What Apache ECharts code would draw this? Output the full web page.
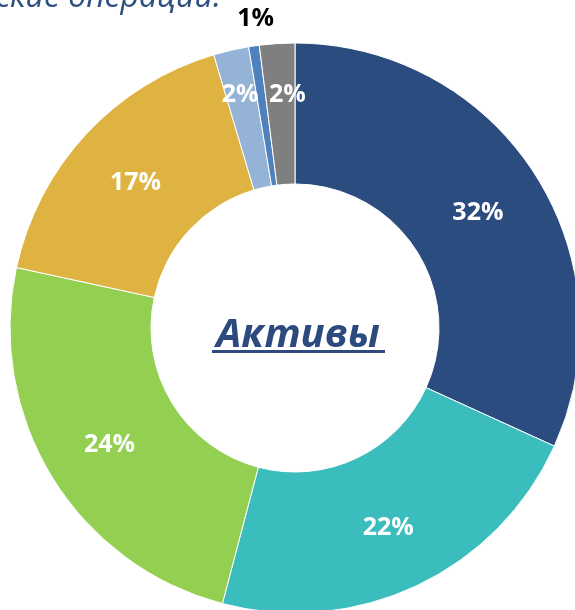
<!DOCTYPE html>
<html>
<head>
<meta charset="utf-8">
<script src="https://cdn.jsdelivr.net/npm/echarts@6/dist/echarts.min.js"></script>
<style>
html,body{margin:0;padding:0;background:#fff;}
#chart{width:575px;height:610px;}
</style>
</head>
<body>
<div id="chart"></div>
<script>
// Data
const categories = ['Сегмент 1', 'Сегмент 2', 'Сегмент 3', 'Сегмент 4', 'Сегмент 5', 'Сегмент 6', 'Сегмент 7'];
const shares = [31.8, 22.3, 24.3, 17.0, 2.0, 0.6, 2.0];
const percentLabels = ['32%', '22%', '24%', '17%', '2%', '1%', '2%'];
const centerTitle = 'Активы';
const headerText = 'Банковские операции.';

// Styles
const colors = ['#2b4c7f', '#3bbcbd', '#93d051', '#dfb341', '#95b3d7', '#4f81bd', '#7f7f7f'];
const labelStyleOverrides = {
  4: { offset: [-6, -21] },
  5: { offset: [-8, -94], color: '#000' },
  6: { offset: [6, -16] }
};

const chart = echarts.init(document.getElementById('chart'), null, { renderer: 'canvas' });

const data = categories.map((name, i) => {
  const ov = labelStyleOverrides[i] || {};
  return {
    name: name,
    value: shares[i],
    itemStyle: { color: colors[i] },
    label: Object.assign({
      formatter: percentLabels[i]
    }, ov)
  };
});

chart.setOption({
  animation: false,
  series: [{
    type: 'pie',
    center: [295, 328],
    radius: [144, 285],
    startAngle: 90,
    clockwise: true,
    avoidLabelOverlap: false,
    itemStyle: { borderColor: '#ffffff', borderWidth: 1 },
    label: {
      show: true,
      position: 'inside',
      color: '#ffffff',
      fontFamily: 'Open Sans',
      fontWeight: 'bold',
      fontSize: 25,
      offset: [0, 3]
    },
    labelLine: { show: false },
    emphasis: { disabled: true },
    data: data
  }],
  graphic: [
    {
      type: 'text',
      x: 221,
      y: 14,
      style: {
        text: headerText,
        fill: '#2f4f7f',
        font: 'italic 32px "Open Sans"',
        textAlign: 'right',
        textVerticalAlign: 'bottom'
      }
    },
    {
      type: 'text',
      x: 298,
      y: 356,
      style: {
        text: centerTitle,
        fill: '#2c4a7e',
        font: 'italic bold 40px "Open Sans"',
        textAlign: 'center',
        textVerticalAlign: 'bottom'
      }
    },
    {
      type: 'rect',
      shape: { x: 212, y: 350, width: 173, height: 3 },
      style: { fill: '#2c4a7e' }
    }
  ]
});
</script>
</body>
</html>
